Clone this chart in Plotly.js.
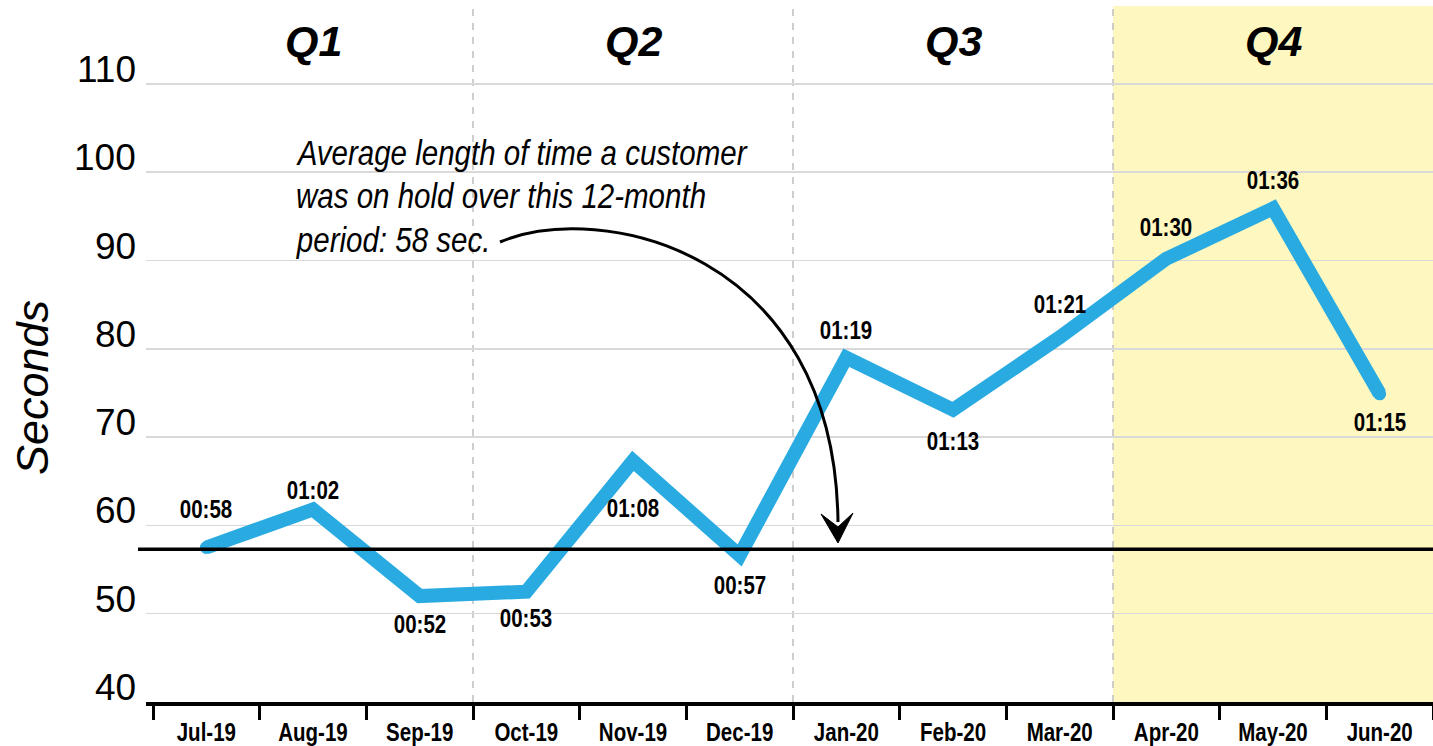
<!DOCTYPE html>
<html>
<head>
<meta charset="utf-8">
<script src="https://cdn.plot.ly/plotly-3.0.1.min.js"></script>
<style>html,body{margin:0;padding:0;background:#fff;}#chart{width:1433px;height:746px;}</style>
</head>
<body>
<div id="chart"></div>
<script>
// ---- data ----
const months = ['Jul-19','Aug-19','Sep-19','Oct-19','Nov-19','Dec-19','Jan-20','Feb-20','Mar-20','Apr-20','May-20','Jun-20'];
const holdSeconds = [57.5, 61.8, 52.0, 52.5, 67.3, 56.6, 79.0, 73.1, 81.3, 90.2, 95.9, 74.9];
const holdLabels = ['00:58','01:02','00:52','00:53','01:08','00:57','01:19','01:13','01:21','01:30','01:36','01:15'];
const averageSeconds = 57.3;
const quarters = ['Q1','Q2','Q3','Q4'];
const yTicks = [40, 50, 60, 70, 80, 90, 100, 110];
const noteLines = ['Average length of time a customer', 'was on hold over this 12-month', 'period: 58 sec.'];

// ---- style / layout helpers ----
const labelShift = [38, 20, -28, -26, -47, -30, 28, -31, 33, 32, 28, -28];
const L = 146, T = 6, W = 1287, H = 696;
const px = x => (x - L) / W;
const py = y => (T + H - y) / H;
const SANS = '"Liberation Sans", Arial, sans-serif';
const NARROW_FACTOR = 0.82;

const trace = {
  type: 'scatter',
  mode: 'lines+markers',
  x: months,
  y: holdSeconds,
  line: {color: '#29ABE2', width: 14},
  marker: {color: '#29ABE2', size: 13},
  hoverinfo: 'skip',
  cliponaxis: false
};

const annotations = [];
const condenseCenter = [];
const condenseLeft = [];
months.forEach((m, i) => {
  condenseCenter.push(annotations.length);
  annotations.push({
    x: m, y: holdSeconds[i], xref: 'x', yref: 'y',
    text: holdLabels[i], showarrow: false,
    xanchor: 'center', yanchor: 'middle',
    yshift: labelShift[i],
    font: {family: SANS, size: 25, color: '#000', weight: 'bold'}
  });
});
yTicks.forEach(v => {
  annotations.push({
    x: px(138), y: v, xref: 'paper', yref: 'y',
    text: String(v), showarrow: false,
    xanchor: 'right', yanchor: 'bottom', yshift: -8,
    font: {family: SANS, size: 37, color: '#000'}
  });
});
quarters.forEach((q, k) => {
  annotations.push({
    x: k * 3 + 1, y: py(42), xref: 'x', yref: 'paper',
    xanchor: 'center', yanchor: 'middle',
    text: '<b><i>' + q + '</i></b>', showarrow: false,
    font: {family: SANS, size: 43, color: '#000'}
  });
});
noteLines.forEach((line, k) => {
  condenseLeft.push(annotations.length);
  annotations.push({
    x: px(294), y: py(152 + k * 44), xref: 'paper', yref: 'paper',
    xanchor: 'left', yanchor: 'middle', align: 'left',
    text: '<i>' + line + '</i>', showarrow: false,
    font: {family: SANS, size: 36, color: '#000'}
  });
});
annotations.push({
  x: px(32), y: py(388), xref: 'paper', yref: 'paper',
  xanchor: 'center', yanchor: 'middle',
  text: '<i>Seconds</i>', textangle: -90, showarrow: false,
  font: {family: SANS, size: 45, color: '#000'}
});

const shapes = [
  {type: 'rect', xref: 'x', yref: 'paper', x0: 8.5, x1: 11.6, y0: 0, y1: 1,
   fillcolor: '#FEF7BF', line: {width: 0}, layer: 'below'},
  {type: 'line', xref: 'x', yref: 'paper', x0: 2.5, x1: 2.5, y0: 0, y1: 1,
   line: {color: '#BFBFBF', width: 1.5, dash: '7px,7px'}, layer: 'below'},
  {type: 'line', xref: 'x', yref: 'paper', x0: 5.5, x1: 5.5, y0: 0, y1: 1,
   line: {color: '#BFBFBF', width: 1.5, dash: '7px,7px'}, layer: 'below'},
  {type: 'line', xref: 'x', yref: 'paper', x0: 8.5, x1: 8.5, y0: 0, y1: 1,
   line: {color: '#BFBFBF', width: 1.5, dash: '7px,7px'}, layer: 'below'},
  {type: 'line', xref: 'paper', yref: 'y', x0: px(138), x1: 1, y0: averageSeconds, y1: averageSeconds,
   line: {color: '#000', width: 3.5}},
  {type: 'path', xref: 'paper', yref: 'paper',
   path: `M ${px(500)},${py(242)} C ${px(600)},${py(200)} ${px(835)},${py(250)} ${px(838)},${py(522)}`,
   line: {color: '#000', width: 3}},
  {type: 'path', xref: 'paper', yref: 'paper',
   path: `M ${px(821)},${py(514)} L ${px(838)},${py(543)} L ${px(853)},${py(513)} L ${px(838)},${py(527)} Z`,
   fillcolor: '#000', line: {color: '#000', width: 1}}
];

const layout = {
  width: 1433, height: 746,
  margin: {l: L, r: 1433 - L - W, t: T, b: 746 - T - H},
  paper_bgcolor: '#fff', plot_bgcolor: 'rgba(0,0,0,0)',
  showlegend: false,
  xaxis: {
    type: 'category', range: [-0.5 - 7 / 106.67, 11.5],
    tickson: 'boundaries', ticks: 'outside', ticklen: 14, tickwidth: 3, tickcolor: '#000',
    showline: true, linecolor: '#000', linewidth: 4, showgrid: false, zeroline: false,
    tickfont: {family: SANS, size: 25, color: '#000', weight: 'bold'},
    ticklabelstandoff: 5,
    fixedrange: true
  },
  yaxis: {
    range: [40, 40 + H / 8.83], tickvals: yTicks, showticklabels: false,
    showgrid: true, gridcolor: '#D9D9D9', gridwidth: 1.5, zeroline: false, showline: false,
    ticks: '', fixedrange: true
  },
  shapes: shapes,
  annotations: annotations
};

function condenseText(t, anchorLeft) {
  const bb = t.getBBox();
  const cx = anchorLeft ? bb.x : bb.x + bb.width / 2;
  const tr = t.getAttribute('transform') || '';
  t.setAttribute('transform', `${tr} translate(${cx},0) scale(${NARROW_FACTOR},1) translate(${-cx},0)`);
}

Plotly.newPlot('chart', [trace], layout, {displayModeBar: false, staticPlot: true}).then(gd => {
  gd.querySelectorAll('.xtick text').forEach(t => condenseText(t, false));
  const anns = gd.querySelectorAll('g.annotation');
  anns.forEach(g => {
    const idx = +g.getAttribute('data-index');
    const t = g.querySelector('text');
    if (!t) return;
    if (condenseCenter.includes(idx)) condenseText(t, false);
    else if (condenseLeft.includes(idx)) condenseText(t, true);
  });
});
</script>
</body>
</html>
